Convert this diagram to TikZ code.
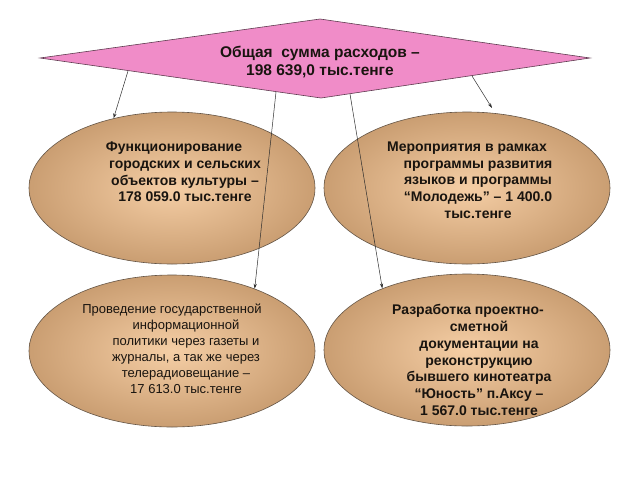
\documentclass[tikz,border=0pt]{standalone}
\usepackage{fontspec}
\setmainfont{Liberation Sans}
\usetikzlibrary{shapes.geometric,arrows.meta}
\definecolor{pinkfill}{RGB}{240,140,200}
\definecolor{pinkline}{RGB}{95,60,80}
\definecolor{tanin}{RGB}{245,206,165}
\definecolor{tanout}{RGB}{202,158,114}
\definecolor{tanline}{RGB}{100,85,70}
\definecolor{txt}{RGB}{25,20,15}
\definecolor{arr}{RGB}{45,45,45}
\tikzset{
  ell/.style={ellipse, draw=tanline, line width=0.6pt, inner color=tanin, outer color=tanout,
    minimum width=286pt, minimum height=152pt, inner sep=0pt},
  etext/.style={align=center, text=txt, font=\bfseries\fontsize{14}{16.7}\selectfont, inner sep=0pt},
  ltext/.style={align=center, text=txt, font=\fontsize{13}{16}\selectfont, inner sep=0pt},
  conn/.style={draw=arr, line width=0.5pt, -{Stealth[length=5pt,width=3.2pt]}}
}
\begin{document}
\begin{tikzpicture}[x=1pt,y=-1pt]
\useasboundingbox (0,0) rectangle (640,480);
% diamond
\coordinate (dl) at (40,58);
\coordinate (dt) at (320,19);
\coordinate (dr) at (590,58);
\coordinate (db) at (321,98);
\filldraw[fill=pinkfill, draw=pinkline, line width=0.6pt] (dl) -- (dt) -- (dr) -- (db) -- cycle;
\node[align=center, text=txt, font=\bfseries\fontsize{15.5}{18.5}\selectfont, inner sep=0pt] (sum) at (320,62)
  {Общая \ сумма расходов –\\198 639,0 тыс.тенге};
% ellipses
\node[ell] (e1) at (172,188) {};
\node[ell] (e2) at (467,188) {};
\node[ell] (e3) at (172,351) {};
\node[ell] (e4) at (467,350) {};
\node[etext] (t1) at (185,172) {Функционирование\hspace*{22pt}\\городских и сельских\\объектов культуры –\\178 059.0 тыс.тенге};
\node[etext] (t2) at (478,180) {Мероприятия в рамках\hspace*{22pt}\\программы развития\\языков и программы\\“Молодежь” – 1 400.0\\тыс.тенге};
\node[ltext] (t3) at (186,349) {Проведение государственной\hspace*{28pt}\\информационной\\политики через газеты и\\журналы, а так же через\\телерадиовещание –\\17 613.0 тыс.тенге};
\node[etext] (t4) at (479,360) {Разработка проектно-\hspace*{22pt}\\сметной\\документации на\\реконструкцию\\бывшего кинотеатра\\“Юность” п.Аксу –\\1 567.0 тыс.тенге};
% connectors
\coordinate (s1) at (128,71);
\coordinate (s2) at (276,92);
\coordinate (s3) at (350,94);
\coordinate (s4) at (472,76);
\coordinate (c4) at (492,108);
\draw[conn] (s1) -- (e1.130);
\draw[conn] (s2) -- (e3.37);
\draw[conn] (s3) -- (e4.144);
\draw[conn] (s4) -- (c4);
\end{tikzpicture}
\end{document}
